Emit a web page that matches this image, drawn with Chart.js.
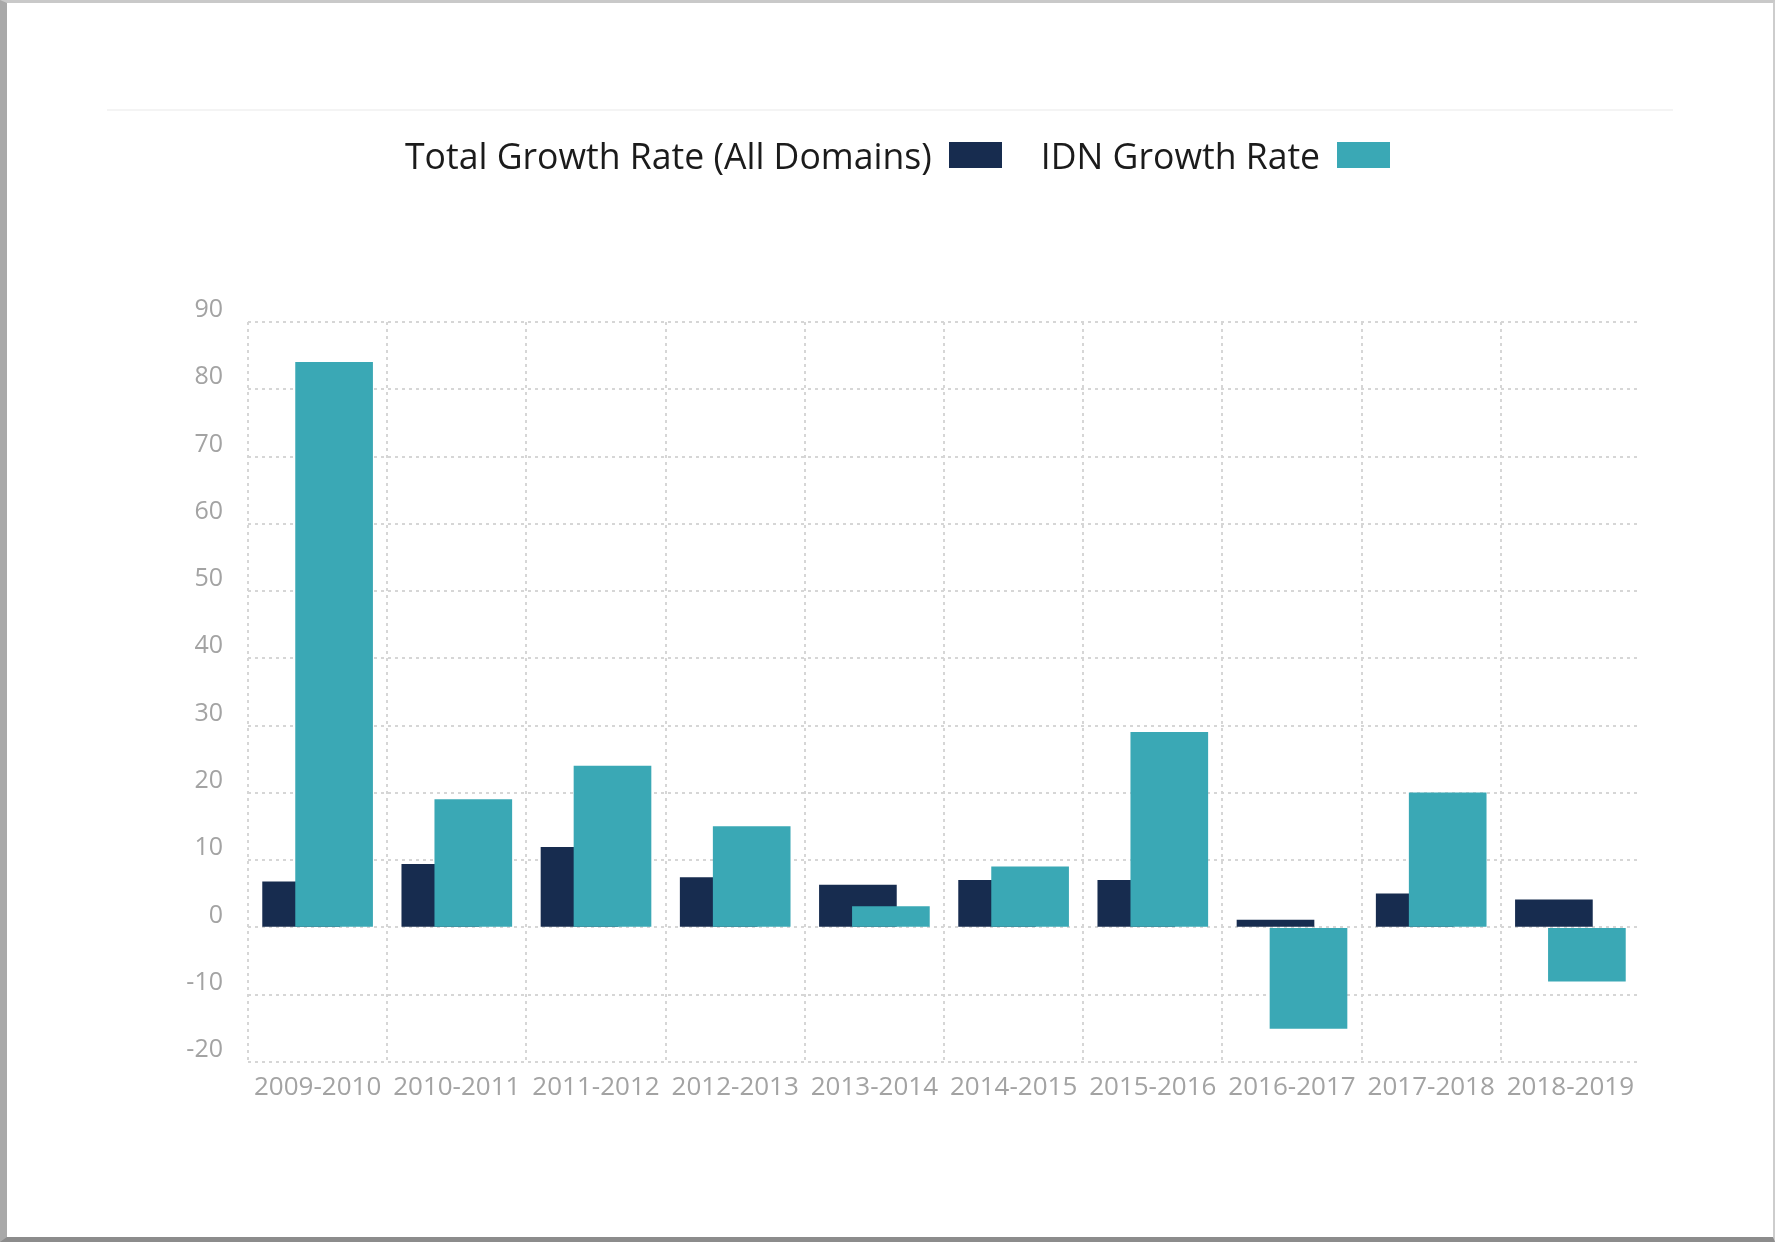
<!DOCTYPE html>
<html>
<head>
<meta charset="utf-8">
<title>Total vs IDN Growth Rate</title>
<script src="https://cdn.jsdelivr.net/npm/chart.js@4.4.0/dist/chart.umd.min.js"></script>
<style>
    html, body { margin: 0; padding: 0; background: #fff; }
    #page { position: relative; width: 1775px; height: 1242px; overflow: hidden; font-family: "Open Sans", sans-serif; }
    #frame { position: absolute; left: 0; top: 0; width: 1775px; height: 1242px; box-sizing: border-box;
             border-top: 3px solid #c9c9c9; border-left: 7px solid #a9a9a9;
             border-right: 2px solid #cdcdcd; border-bottom: 5px solid #8c8c8c; }
    #rule { position: absolute; left: 107px; top: 109px; width: 1566px; border-top: 2px solid #f4f4f4; }
    #growthChart { position: absolute; left: 0; top: 0; }
    #legend { position: absolute; left: 405px; top: 134px; display: flex; align-items: center;
              font-size: 35.6px; line-height: 42px; color: #1b1b1b; white-space: nowrap; }
    .legend-item { display: flex; align-items: center; margin-right: 39px; }
    .legend-box { width: 53px; height: 26px; margin-left: 17px; }
</style>
</head>
<body>
<div id="page">
    <div id="frame"></div>
    <div id="rule"></div>
    <canvas id="growthChart" width="1775" height="1242"></canvas>
    <div id="legend"></div>
</div>
<script>
const categories = ['2009-2010', '2010-2011', '2011-2012', '2012-2013', '2013-2014',
                    '2014-2015', '2015-2016', '2016-2017', '2017-2018', '2018-2019'];
const totalGrowth = [6.8, 9.4, 11.9, 7.4, 6.3, 7.0, 7.0, 1.1, 5.0, 4.1];
const idnGrowth = [84, 19, 24, 15, 3.1, 9, 29, -15, 20, -8];
const seriesNames = ['Total Growth Rate (All Domains)', 'IDN Growth Rate'];
const yMin = -20;
const yMax = 90;
const yStep = 10;

document.addEventListener('DOMContentLoaded', () => {
    const canvas = document.getElementById('growthChart');
    const legendDiv = document.getElementById('legend');

    const SHIFT = 0.1185; // bars overlap: half the gap between the two bar centres, in category units
    const gridColor = '#d6d6d6';
    const tickColor = '#a3a3a3';

    // bars sit on a hidden linear axis so the two series can overlap inside a category
    const toPoints = (values, offset) => values.map((v, i) => ({ x: i + offset, y: v }));

    function buildLegend(chart) {
        legendDiv.innerHTML = '';
        chart.data.datasets.forEach(ds => {
            const item = document.createElement('div');
            item.classList.add('legend-item');
            const label = document.createElement('span');
            label.textContent = ds.label;
            const box = document.createElement('span');
            box.classList.add('legend-box');
            box.style.background = ds.backgroundColor;
            item.appendChild(label);
            item.appendChild(box);
            legendDiv.appendChild(item);
        });
    }

    function drawChart() {
        const chart = new Chart(canvas.getContext('2d'), {
            type: 'bar',
            data: {
                labels: categories,
                datasets: [
                    {
                        label: seriesNames[0],
                        data: toPoints(totalGrowth, -SHIFT),
                        backgroundColor: '#172c4f',
                        xAxisID: 'xl',
                        order: 2
                    },
                    {
                        label: seriesNames[1],
                        data: toPoints(idnGrowth, SHIFT),
                        backgroundColor: '#3aa8b5',
                        xAxisID: 'xl',
                        order: 1 // drawn over the dark bars
                    }
                ]
            },
            options: {
                responsive: false,
                animation: false,
                grouped: false,
                barThickness: 77,
                layout: { padding: { left: 0, right: 135, top: 322, bottom: 120 } },
                plugins: {
                    legend: { display: false },
                    tooltip: { enabled: false }
                },
                scales: {
                    x: {
                        type: 'category',
                        position: 'bottom',
                        offset: true,
                        grid: {
                            offset: true,
                            drawTicks: false,
                            lineWidth: 2,
                            // no line on the right edge of the plot
                            color: c => (c.index === undefined ? 'rgba(0,0,0,0)' : gridColor)
                        },
                        border: { display: false, dash: [3, 4] },
                        ticks: {
                            color: tickColor,
                            font: { family: 'Open Sans', size: 26 },
                            padding: 10,
                            maxRotation: 0,
                            autoSkip: false
                        },
                        afterFit: scale => { scale.height = 60; }
                    },
                    xl: {
                        type: 'linear',
                        position: 'bottom',
                        display: false,
                        offset: false,
                        min: -0.5,
                        max: categories.length - 0.5
                    },
                    y: {
                        min: yMin,
                        max: yMax,
                        grid: { drawTicks: false, lineWidth: 2, color: gridColor },
                        border: { display: false, dash: [3, 4] },
                        ticks: {
                            stepSize: yStep,
                            color: tickColor,
                            font: { family: 'Open Sans', size: 25 },
                            padding: 25,
                            labelOffset: -12
                        },
                        afterFit: scale => { scale.width = 248; }
                    }
                }
            }
        });
        buildLegend(chart);
    }

    if (document.fonts && document.fonts.load) {
        document.fonts.load('26px "Open Sans"').then(drawChart, drawChart);
    } else {
        drawChart();
    }
});
</script>
</body>
</html>
